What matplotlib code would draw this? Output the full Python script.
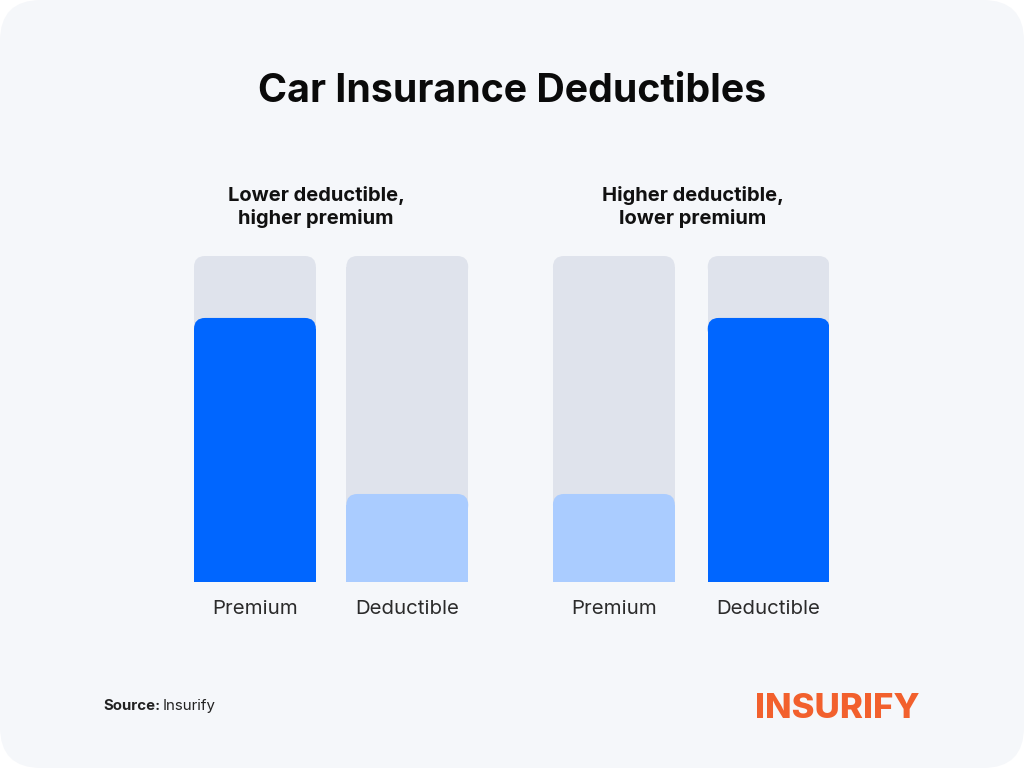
import matplotlib.pyplot as plt
from matplotlib.patches import FancyBboxPatch

# --- Data ---
groups = ['Lower deductible,\nhigher premium', 'Higher deductible,\nlower premium']
bar_labels = ['Premium', 'Deductible', 'Premium', 'Deductible']
values = [81, 27, 27, 81]          # share of the track
track_max = 100
bar_kind = ['high', 'low', 'low', 'high']

# --- Style ---
bg_panel = '#F5F7FA'
track_color = '#DFE3EC'
colors = {'high': '#0066FF', 'low': '#AACCFF'}
font = 'Inter'

W, H = 1024, 768
fig = plt.figure(figsize=(W / 100, H / 100), dpi=100, facecolor='white')

# rounded background panel
panel = FancyBboxPatch((0, 0), 1, 1, boxstyle='round,pad=0,rounding_size=0.04',
                       mutation_aspect=W / H, transform=fig.transFigure,
                       facecolor=bg_panel, edgecolor='none', zorder=-5)
fig.patches.append(panel)

# axes spanning the bars (pixel box 194..829 x 256..582)
left, right, top, bottom = 194, 829, 256, 582
ax = fig.add_axes([left / W, 1 - bottom / H, (right - left) / W, (bottom - top) / H])
ax.set_zorder(2)
ax.set_facecolor('none')
for s in ax.spines.values():
    s.set_visible(False)
ax.set_xticks([])
ax.set_yticks([])

width = 1.0
positions = [0, 1.25, 2.945, 4.215]
ax.set_xlim(-0.5, 4.71)
ax.set_ylim(0, track_max)

ax_w_px = right - left
ax_h_px = bottom - top
xupp = (4.71 + 0.5) / ax_w_px
yupp = track_max / ax_h_px
radius_px = 11


def rounded_top_bar(ax, x, h, color, z):
    r_x = radius_px * xupp
    r_y = radius_px * yupp
    # square lower part drawn as a normal bar
    ax.bar(x, h - r_y, width=width, bottom=0, color=color, linewidth=0, zorder=z)
    top_part = FancyBboxPatch((x - width / 2, max(h - 2 * r_y, 0)), width, min(2 * r_y, h),
                              boxstyle=f'round,pad=0,rounding_size={r_x}',
                              mutation_aspect=yupp / xupp,
                              facecolor=color, edgecolor='none', zorder=z)
    ax.add_patch(top_part)


for x, v, kind in zip(positions, values, bar_kind):
    rounded_top_bar(ax, x, track_max, track_color, 1)
    rounded_top_bar(ax, x, v, colors[kind], 2)

# category labels under bars
for x, lab in zip(positions, bar_labels):
    ax.text(x, -8.2, lab, ha='center', va='center', fontsize=14.7, color='#2B2B2B',
            family=font, clip_on=False)

# group headings
group_x_px = [316, 693]
for gx, g in zip(group_x_px, groups):
    fig.text(gx / W, 1 - 207 / H, g, ha='center', va='center', fontsize=14.5,
             fontweight='bold', color='#111111', family=font, linespacing=1.25)

# title
fig.text(0.5, 1 - 91 / H, 'Car Insurance Deductibles', ha='center', va='center',
         fontsize=28.3, fontweight='bold', color='#0A0A0A', family=font)

# footer
fig.text(103 / W, 1 - 706 / H, 'Source:', ha='left', va='center', fontsize=10.8,
         fontweight='bold', color='#222222', family=font)
fig.text(163 / W, 1 - 706 / H, 'Insurify', ha='left', va='center', fontsize=10.8,
         color='#222222', family=font)
fig.text(920 / W, 1 - 709 / H, 'INSURIFY', ha='right', va='center', fontsize=25,
         fontweight='heavy', color='#F2602D', family=font)

fig.savefig('out.png', dpi=100, facecolor='white')
